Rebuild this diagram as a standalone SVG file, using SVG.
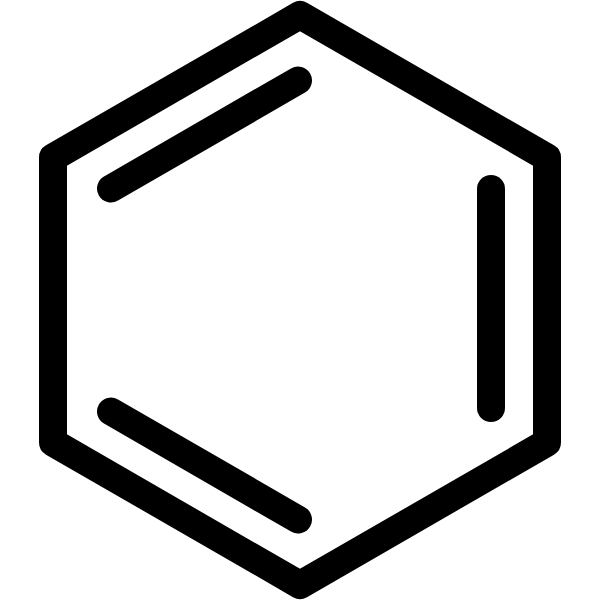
<svg xmlns="http://www.w3.org/2000/svg" width="600" height="600" viewBox="0 0 600 600">
<style>
.s{fill:none;stroke:#000;stroke-width:28;stroke-linecap:round;stroke-linejoin:round}
</style>
<rect width="600" height="600" fill="#fff"/>
<g id="ring">
<polygon class="s" points="300,15 547,157.5 547,442.5 300,585 53,442.5 53,157.5"/>
</g>
<g id="double-bonds">
<line class="s" x1="111" y1="188.5" x2="298" y2="80.5"/>
<line class="s" x1="491" y1="189" x2="491" y2="408"/>
<line class="s" x1="111" y1="411.5" x2="298" y2="519.5"/>
</g>
</svg>
